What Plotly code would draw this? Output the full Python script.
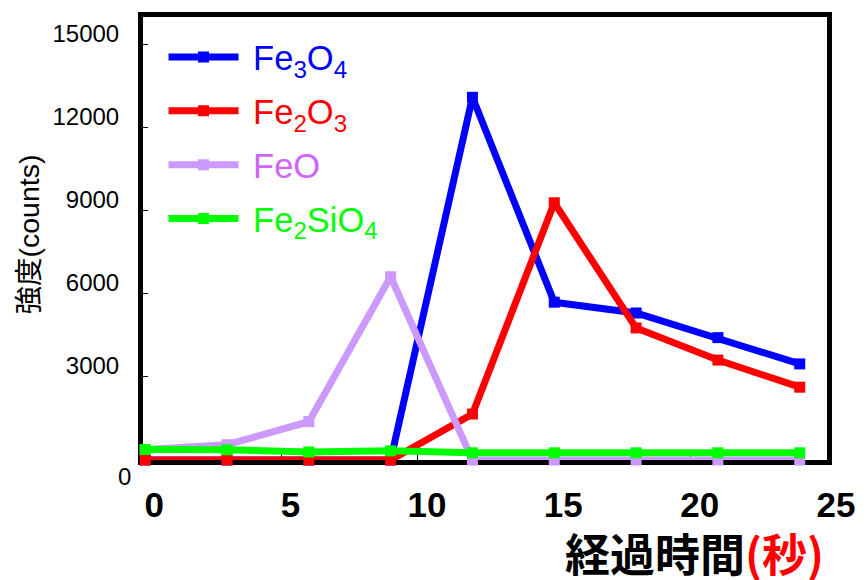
import plotly.graph_objects as go

# Data
time_s = [0, 3, 6, 9, 12, 15, 18, 21, 24]
fe3o4 = [0, 0, 0, 0, 13100, 5700, 5310, 4420, 3470]
fe2o3 = [0, 0, 0, 0, 1660, 9290, 4770, 3610, 2630]
feo = [380, 553, 1385, 6620, 0, 0, 0, 0, 0]
fe2sio4 = [380, 370, 290, 330, 260, 260, 260, 260, 260]

series_names = [
    "&nbsp;<span style='color:#0000FF'>Fe<sub>3</sub>O<sub>4</sub></span>",
    "&nbsp;<span style='color:#FF0000'>Fe<sub>2</sub>O<sub>3</sub></span>",
    "&nbsp;<span style='color:#CC66FF'>FeO</span>",
    "&nbsp;<span style='color:#00FF00'>Fe<sub>2</sub>SiO<sub>4</sub></span>",
]
series_values = [fe3o4, fe2o3, feo, fe2sio4]
series_colors = ["#0000FF", "#FF0000", "#CC99FF", "#00FF00"]

y_ticks = [3000, 6000, 9000, 12000, 15000]
y_ticktext = ["3000", "6000", "9000", "12000", "15000"]
x_ticks = [0, 5, 10, 15, 20, 25]

fig = go.Figure()
for i, (name, vals, col) in enumerate(zip(series_names, series_values, series_colors)):
    fig.add_trace(go.Scatter(
        x=time_s, y=vals, name=name, mode="lines+markers",
        line=dict(color=col, width=7),
        marker=dict(color=col, symbol="square", size=11),
        legendgroup=f"g{i}", cliponaxis=False,
    ))

fig.update_layout(
    width=867, height=580,
    margin=dict(l=143, r=34, t=12, b=120),
    plot_bgcolor="white", paper_bgcolor="white",
    font=dict(family="Liberation Sans, Arial, Noto Sans CJK JP", color="black"),
    showlegend=True,
    legend=dict(
        x=0.03, y=0.975, xanchor="left", yanchor="top",
        font=dict(size=34.5, family="Liberation Sans, Arial"),
        bgcolor="rgba(0,0,0,0)", traceorder="grouped", tracegroupgap=6,
        itemwidth=70,
    ),
    xaxis=dict(
        range=[-0.08, 25.0], tickvals=x_ticks,
        showline=True, linewidth=5, linecolor="black", mirror=True,
        ticks="inside", ticklen=5, tickwidth=1, tickcolor="black",
        tickfont=dict(size=35, family="Liberation Sans, Arial", weight="bold"),
        ticklabelshift=9, ticklabelstandoff=10,
        showgrid=False, zeroline=False, layer="below traces",
    ),
    yaxis=dict(
        range=[0, 16000], tickvals=y_ticks, ticktext=y_ticktext,
        showline=True, linewidth=5, linecolor="black", mirror=True,
        ticks="inside", ticklen=5, tickwidth=1, tickcolor="black",
        tickfont=dict(size=24, family="Liberation Sans, Arial"),
        ticklabelshift=-11, ticklabelstandoff=14,
        showgrid=False, zeroline=False, layer="below traces",
        title=dict(text="&nbsp;強度(counts)", font=dict(size=28.5, family="Liberation Sans, Noto Sans CJK JP"), standoff=6),
    ),
    annotations=[
        dict(text="0", xref="paper", yref="y", x=-0.0145, y=0, xanchor="right",
             yanchor="middle", yshift=-16, showarrow=False,
             font=dict(size=24, family="Liberation Sans, Arial")),
        dict(text="経過時間<span style='color:#FF0000'>(秒)</span>", xref="paper", yref="paper",
             x=0.998, y=-0.209, xanchor="right", yanchor="middle", showarrow=False,
             font=dict(size=45, family="Noto Sans CJK JP", weight="bold")),
    ],
)

fig.write_html("out.html", config={"displayModeBar": False},
               post_script="document.body.style.margin='0px';")
